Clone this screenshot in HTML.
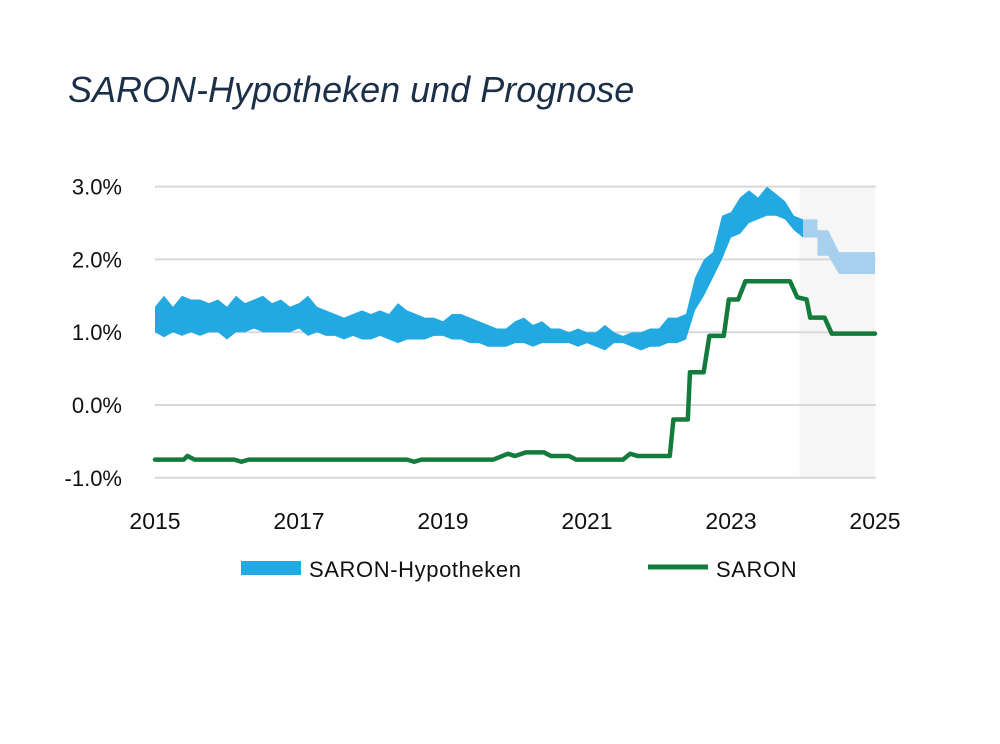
<!DOCTYPE html>
<html><head><meta charset="utf-8"><style>
body{margin:0;background:#fff;width:1000px;height:739px;overflow:hidden;font-family:"Liberation Sans",sans-serif}
</style></head><body>
<svg width="1000" height="739" xmlns="http://www.w3.org/2000/svg">
<text x="68" y="102" font-size="36" font-style="italic" fill="#1b3048">SARON-Hypotheken und Prognose</text>
<g id="plot"></g>
</svg>
<script>
const years=[2015,2017,2019,2021,2023,2025];
const yTicks=[3,2,1,0,-1];
const yTickLabels=["3.0%","2.0%","1.0%","0.0%","-1.0%"];
const bandStart=2015, bandStep=0.125;
const bandUpper=[1.35,1.5,1.35,1.5,1.45,1.45,1.4,1.45,
1.35,1.5,1.4,1.45,1.5,1.4,1.45,1.35,
1.4,1.5,1.35,1.3,1.25,1.2,1.25,1.3,
1.25,1.3,1.25,1.4,1.3,1.25,1.2,1.2,
1.15,1.25,1.25,1.2,1.15,1.1,1.05,1.05,
1.15,1.2,1.1,1.15,1.05,1.05,1.0,1.05,
1.0,1.0,1.1,1.0,0.95,1.0,1.0,1.05,
1.05,1.2,1.2,1.25,1.75,2.0,2.1,2.6,
2.65,2.85,2.95,2.85,3.0,2.9,2.8,2.6,
2.55];
const bandLower=[1.0,0.93,1.0,0.95,1.0,0.95,1.0,1.0,
0.9,1.0,1.0,1.05,1.0,1.0,1.0,1.0,
1.05,0.95,1.0,0.95,0.95,0.9,0.95,0.9,
0.9,0.95,0.9,0.85,0.9,0.9,0.9,0.95,
0.95,0.9,0.9,0.85,0.85,0.8,0.8,0.8,
0.85,0.85,0.8,0.85,0.85,0.85,0.85,0.8,
0.85,0.8,0.75,0.85,0.85,0.8,0.75,0.8,
0.8,0.85,0.85,0.9,1.3,1.5,1.75,2.0,
2.3,2.35,2.5,2.55,2.6,2.6,2.55,2.4,
2.3];
const fcYears=[2024.0,2024.2,2024.2,2024.35,2024.5,2025.0];
const fcUpper=[2.55,2.55,2.4,2.4,2.1,2.1];
const fcLower=[2.3,2.3,2.05,2.05,1.8,1.8];
const saronYears=[2015,2015.4,2015.45,2015.55,2016.1,2016.2,2016.3,2018.5,2018.6,2018.7,2019.7,2019.9,2020.0,2020.15,2020.4,2020.5,2020.75,2020.85,2021.5,2021.6,2021.7,2022.15,2022.2,2022.4,2022.43,2022.62,2022.7,2022.9,2022.97,2023.1,2023.2,2023.82,2023.92,2024.05,2024.1,2024.3,2024.4,2025];
const saronValues=[-0.75,-0.75,-0.7,-0.75,-0.75,-0.78,-0.75,-0.75,-0.78,-0.75,-0.75,-0.67,-0.7,-0.65,-0.65,-0.7,-0.7,-0.75,-0.75,-0.67,-0.7,-0.7,-0.2,-0.2,0.45,0.45,0.95,0.95,1.45,1.45,1.7,1.7,1.48,1.45,1.2,1.2,0.98,0.98];

const X=yr=>155+(yr-2015)*72;
const Y=v=>405-v*72.8;
const NS="http://www.w3.org/2000/svg";
const g=document.getElementById('plot');
function mk(tag,attrs){const e=document.createElementNS(NS,tag);for(const k in attrs)e.setAttribute(k,attrs[k]);g.appendChild(e);return e;}

let e=mk('rect',{x:X(2023.95),y:Y(3),width:X(2025)-X(2023.95),height:Y(-1)-Y(3),fill:'#f6f6f6'});



yTicks.forEach((t,i)=>{
  let l=mk('line',{x1:155,x2:876,y1:Y(t),y2:Y(t),stroke:'#d9d9d9','stroke-width':2});
  
  
  let tx=mk('text',{x:122,y:Y(t)+8,'font-size':22,'text-anchor':'end',fill:'#111'});
  tx.textContent=yTickLabels[i];
  
  
});
years.forEach(yr=>{
  let tx=mk('text',{x:X(yr),y:529,'font-size':23,'text-anchor':'middle',fill:'#111'});
  tx.textContent=String(yr);
  
  
});

let up=bandUpper.map((v,i)=>X(bandStart+i*bandStep)+','+Y(v));
let lo=bandLower.map((v,i)=>X(bandStart+i*bandStep)+','+Y(v)).reverse();
let band=mk('polygon',{points:up.concat(lo).join(' '),fill:'#22a9e1'});



let fu=fcUpper.map((v,i)=>X(fcYears[i])+','+Y(v));
let fl=fcLower.map((v,i)=>X(fcYears[i])+','+Y(v)).reverse();
let fc=mk('polygon',{points:fu.concat(fl).join(' '),fill:'#a6d0ee'});



let sl=mk('polyline',{points:saronValues.map((v,i)=>X(saronYears[i])+','+Y(v)).join(' '),fill:'none',stroke:'#137c3c','stroke-width':4.5,'stroke-linejoin':'round','stroke-linecap':'round'});



let lr=mk('rect',{x:241,y:561,width:60,height:14,fill:'#22a9e1'});


let lt=mk('text',{x:309,y:577,'font-size':22,'letter-spacing':'0.6',fill:'#111'});
lt.textContent='SARON-Hypotheken';


let ll=mk('line',{x1:648,x2:708,y1:567,y2:567,stroke:'#137c3c','stroke-width':5});


let lt2=mk('text',{x:716,y:577,'font-size':22,'letter-spacing':'0.6',fill:'#111'});
lt2.textContent='SARON';


</script>
</body></html>
